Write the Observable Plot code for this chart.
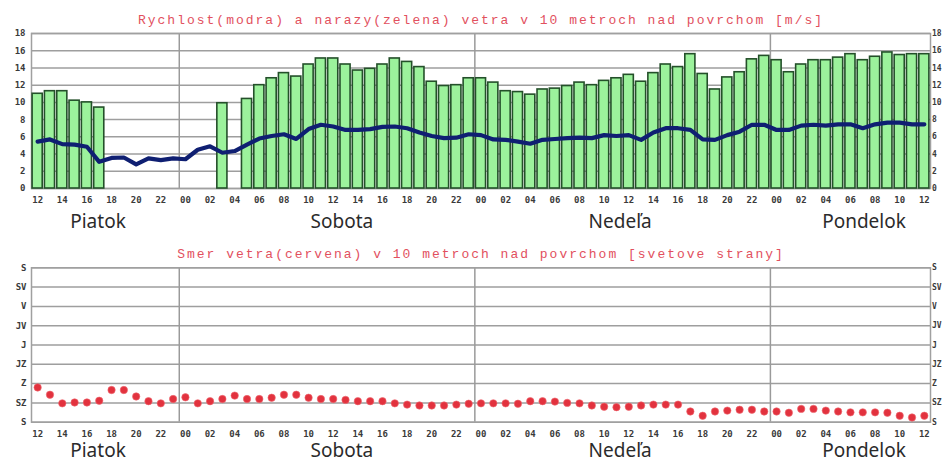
<!DOCTYPE html>
<html>
<head>
<meta charset="utf-8">
<script src="https://cdn.jsdelivr.net/npm/d3@7"></script>
<script src="https://cdn.jsdelivr.net/npm/@observablehq/plot@0.6"></script>
<style>
  html, body { margin: 0; padding: 0; background: #fff; }
  #chart svg { display: block; }
</style>
</head>
<body>
<div id="chart"></div>
<script>
// ---- data (hourly, hour 0 = Piatok 12:00 ... hour 72 = Pondelok 12:00) ----
const titleTop = "Rychlost(modra) a narazy(zelena) vetra v 10 metroch nad povrchom [m/s]";
const titleBottom = "Smer vetra(cervena) v 10 metroch nad povrchom [svetove strany]";

const hourLabels = ["12","14","16","18","20","22","00","02","04","06","08","10",
  "12","14","16","18","20","22","00","02","04","06","08","10",
  "12","14","16","18","20","22","00","02","04","06","08","10","12"];

const dayNames = ["Piatok", "Sobota", "Nedeľa", "Pondelok"];
const dayLabelHour = [4.9, 24.7, 47.3, 67.1];
const midnightHours = [12, 36, 60];

const speedTicks = [0, 2, 4, 6, 8, 10, 12, 14, 16, 18];
const dirTickLabels = ["S", "SV", "V", "JV", "J", "JZ", "Z", "SZ", "S"];
const dirTickDegrees = [0, 45, 90, 135, 180, 225, 270, 315, 360];

// gusts (green bars), m/s; null = no bar
const gusts = [
  11.0, 11.3, 11.3, 10.2, 10.0, 9.4,
  null, null, null, null, null, null, null, null, null,
  9.9, null,
  10.4, 12.0, 12.8, 13.4, 13.0, 14.4, 15.1, 15.1, 14.4, 13.7,
  13.9, 14.4, 15.1, 14.7, 14.1, 12.4, 11.9, 12.0, 12.8, 12.8,
  12.3, 11.3, 11.2, 10.9, 11.5, 11.6, 11.9, 12.3, 12.0, 12.5,
  12.8, 13.2, 12.4, 13.4, 14.4, 14.1, 15.6, 13.3, 11.5, 12.9,
  13.5, 15.0, 15.4, 14.9, 13.5, 14.4, 14.9, 14.9, 15.2, 15.6,
  14.9, 15.3, 15.8, 15.5, 15.6, 15.6
];

// mean wind speed (blue line), m/s
const speed = [
  5.45, 5.7, 5.15, 5.1, 4.85, 3.1, 3.55, 3.6, 2.8, 3.5,
  3.3, 3.5, 3.4, 4.5, 4.9, 4.15, 4.35, 5.1, 5.8, 6.1,
  6.3, 5.75, 6.9, 7.4, 7.2, 6.8, 6.8, 6.9, 7.15, 7.2,
  7.0, 6.5, 6.1, 5.85, 5.9, 6.3, 6.2, 5.7, 5.65, 5.45,
  5.2, 5.65, 5.75, 5.85, 5.9, 5.85, 6.2, 6.1, 6.2, 5.65,
  6.5, 7.0, 7.0, 6.8, 5.7, 5.65, 6.2, 6.6, 7.4, 7.4,
  6.8, 6.8, 7.3, 7.4, 7.3, 7.45, 7.45, 7.0, 7.45, 7.65,
  7.65, 7.45, 7.45
];

// wind direction (red dots), degrees (S=0 top ... S=360 bottom)
const direction = [
  279, 296, 316, 314, 314, 310, 285, 285, 300, 311,
  316, 306, 302, 316, 311, 306, 298, 306, 306, 303,
  296, 296, 303, 306, 306, 308, 311, 311, 311, 316,
  319, 321, 321, 321, 319, 317, 316, 316, 316, 317,
  311, 311, 312, 315, 316, 321, 324, 325, 324, 321,
  319, 319, 319, 335, 345, 335, 333, 331, 331, 335,
  335, 338, 329, 329, 333, 335, 337, 337, 337, 338,
  345, 349, 345
];

// ---- tables built from the arrays ----
const gustData = gusts.map((v, h) => ({h, v})).filter(d => d.v != null);
const speedData = speed.map((v, h) => ({h, v}));
const dirData = direction.map((d, h) => ({h, d}));
const xTickHours = hourLabels.map((_, i) => i * 2);
const days = dayNames.map((name, i) => ({name, h: dayLabelHour[i]}));
const seps = midnightHours.map(h => h - 0.5);

const gridColor = "#9e9e9e";
const tickFont = {fontFamily: "DejaVu Sans Mono", fontSize: 9, fontWeight: "bold", fill: "#3a3a3a"};
const rightTickFont = {fontFamily: "DejaVu Sans Mono", fontSize: 8, fontWeight: "bold", fill: "#3a3a3a"};
const dayFont = {fontFamily: "Noto Sans", fontSize: 19, fill: "#2b2b2b"};
const titleFont = {fontFamily: "Liberation Mono", fontSize: 13, fill: "#e2505e"};
const xDomain = [-0.5, 72.5];

const topChart = Plot.plot({
  width: 942, height: 240,
  marginLeft: 31, marginRight: 12, marginTop: 33, marginBottom: 52,
  x: {domain: xDomain, axis: null},
  y: {domain: [0, 18], axis: null},
  marks: [
    Plot.ruleY(speedTicks, {stroke: gridColor, strokeWidth: 1.5}),
    Plot.ruleX(seps, {stroke: "#9a9a9a", strokeWidth: 1.5}),
    Plot.frame({stroke: "#a0a0a0", strokeWidth: 1.5}),
    Plot.rectY(gustData, {x1: d => d.h - 0.41, x2: d => d.h + 0.41, y: "v",
      fill: "#9cf29c", stroke: "#24502a", strokeWidth: 1.6}),
    Plot.line(speedData, {x: "h", y: "v", stroke: "#0f1f72", strokeWidth: 4.2, strokeLinejoin: "round"}),
    Plot.axisY({anchor: "left", label: null, ticks: speedTicks, tickSize: 0, tickPadding: 6, ...tickFont}),
    Plot.axisY({anchor: "right", label: null, ticks: speedTicks, tickSize: 0, tickPadding: 1.5, textAnchor: "start", ...rightTickFont}),
    Plot.axisX({label: null, ticks: xTickHours, tickSize: 0, tickPadding: 8, tickFormat: d => hourLabels[d / 2], ...tickFont}),
    Plot.text(days, {x: "h", text: "name", frameAnchor: "bottom", dy: 33, lineAnchor: "middle", ...dayFont}),
    Plot.text([titleTop], {text: d => d, frameAnchor: "top", dy: -14, lineAnchor: "middle", ...titleFont})
  ]
});

const bottomChart = Plot.plot({
  width: 942, height: 224,
  marginLeft: 31, marginRight: 12, marginTop: 27.3, marginBottom: 42.3,
  x: {domain: xDomain, axis: null},
  y: {domain: [0, 360], reverse: true, axis: null},
  marks: [
    Plot.ruleY(dirTickDegrees, {stroke: gridColor, strokeWidth: 1.5}),
    Plot.ruleX(seps, {stroke: "#9a9a9a", strokeWidth: 1.5}),
    Plot.frame({stroke: "#a0a0a0", strokeWidth: 1.5}),
    Plot.dot(dirData, {x: "h", y: "d", r: 3.7, fill: "#e2323e", stroke: "#ef6a72", strokeWidth: 0.6}),
    Plot.axisY({anchor: "left", label: null, ticks: dirTickDegrees, tickSize: 0, tickPadding: 5,
      tickFormat: d => dirTickLabels[d / 45], ...tickFont}),
    Plot.axisY({anchor: "right", label: null, ticks: dirTickDegrees, tickSize: 0, tickPadding: 1.5, textAnchor: "start",
      tickFormat: d => dirTickLabels[d / 45], ...rightTickFont}),
    Plot.axisX({label: null, ticks: xTickHours, tickSize: 0, tickPadding: 8, tickFormat: d => hourLabels[d / 2], ...tickFont}),
    Plot.text(days, {x: "h", text: "name", frameAnchor: "bottom", dy: 28.5, lineAnchor: "middle", ...dayFont}),
    Plot.text([titleBottom], {text: d => d, frameAnchor: "top", dy: -14, lineAnchor: "middle", ...titleFont})
  ]
});

const host = document.getElementById("chart");
host.appendChild(topChart);
host.appendChild(bottomChart);
[topChart, bottomChart].forEach(svg => {
  d3.select(svg).selectAll("text")
    .filter(function () { return this.textContent === titleTop || this.textContent === titleBottom; })
    .style("letter-spacing", "2px");
});
</script>
</body>
</html>
